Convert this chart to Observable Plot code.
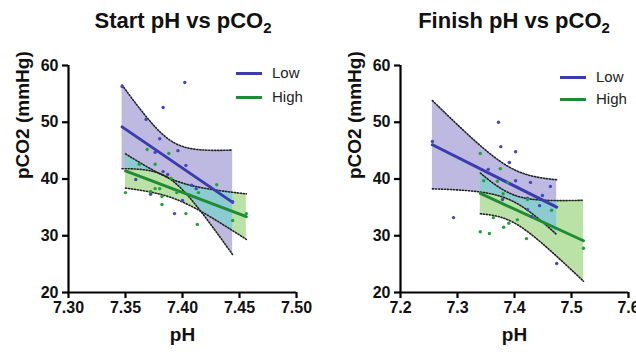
<!DOCTYPE html>
<html><head><meta charset="utf-8">
<script src="https://cdn.jsdelivr.net/npm/d3@7"></script>
<script src="https://cdn.jsdelivr.net/npm/@observablehq/plot@0.6"></script>
<style>
body{margin:0;background:#fff;font-family:"Liberation Sans",Arial,sans-serif;}
#wrap{position:relative;width:636px;height:352px;overflow:hidden;background:#fff;}
.panel{position:absolute;top:0;width:318px;height:352px;}
.title{position:absolute;top:8px;font-weight:bold;font-size:22px;color:#111;white-space:nowrap;transform:translateX(-50%);}
.title sub{font-size:15px;vertical-align:-5px;line-height:0;}
.leg{position:absolute;font-size:15px;color:#222;white-space:nowrap;}
.leg span.sw{display:inline-block;width:26px;height:3px;vertical-align:middle;margin-right:10px;position:relative;top:-1px;}
svg{overflow:visible;}
</style></head>
<body><div id="wrap"></div>
<script>
// ---- data ----
const groups = ["Low", "High"];
const startLowPH    = [7.347, 7.402, 7.383, 7.368, 7.380, 7.376, 7.396, 7.403, 7.383, 7.387, 7.359, 7.372, 7.400, 7.393, 7.408, 7.412, 7.444];
const startLowPCO2  = [56.3, 57.0, 52.6, 50.5, 47.1, 44.7, 45.0, 42.4, 41.3, 40.8, 39.9, 37.3, 36.2, 33.9, 38.9, 38.3, 36.0];
const startHighPH   = [7.369, 7.388, 7.362, 7.376, 7.390, 7.350, 7.372, 7.376, 7.380, 7.382, 7.382, 7.395, 7.403, 7.414, 7.430, 7.413, 7.444, 7.456];
const startHighPCO2 = [45.2, 44.5, 42.6, 42.6, 40.1, 37.6, 37.8, 38.3, 38.3, 36.9, 35.5, 37.6, 33.9, 37.6, 39.0, 32.0, 32.7, 33.9];
const finishLowPH    = [7.256, 7.372, 7.376, 7.402, 7.391, 7.354, 7.402, 7.428, 7.463, 7.449, 7.423, 7.444, 7.423, 7.430, 7.293, 7.474, 7.379];
const finishLowPCO2  = [46.6, 50.0, 45.7, 44.8, 42.9, 41.7, 39.7, 39.4, 38.7, 37.1, 36.6, 35.3, 34.6, 33.4, 33.2, 25.1, 36.4];
const finishHighPH   = [7.340, 7.375, 7.370, 7.346, 7.388, 7.380, 7.423, 7.363, 7.405, 7.390, 7.381, 7.340, 7.356, 7.421, 7.465, 7.521];
const finishHighPCO2 = [44.5, 41.8, 39.6, 39.7, 39.4, 37.4, 36.4, 33.2, 32.8, 32.2, 31.5, 30.7, 30.4, 29.5, 34.5, 27.8];
const xTicksStart  = [7.30, 7.35, 7.40, 7.45, 7.50];
const xTicksFinish = [7.2, 7.3, 7.4, 7.5, 7.6];
const yTicks = [20, 30, 40, 50, 60];
const titles = ["Start pH vs pCO", "Finish pH vs pCO"];

// ---- styling ----
const lineColor = {Low: "#3a3cae", High: "#1f8c35"};
const dotColor  = {Low: "#4347b8", High: "#23a03c"};
const bandFill  = {Low: "#bdb9e0", High: "#bbe2a6"};
const overlapFill = "#8ccbd2";

// t quantile (0.975) via Cornish-Fisher expansion
function tq(df){
  const z = 1.959964;
  const g1 = (z**3 + z)/4, g2 = (5*z**5 + 16*z**3 + 3*z)/96, g3 = (3*z**7 + 19*z**5 + 17*z**3 - 15*z)/384;
  return z + g1/df + g2/df**2 + g3/df**3;
}
function fit(xs, ys){
  const n = xs.length, mx = d3.mean(xs), my = d3.mean(ys);
  let sxx = 0, sxy = 0;
  xs.forEach((x,i)=>{ sxx += (x-mx)**2; sxy += (x-mx)*(ys[i]-my); });
  const b = sxy/sxx, a = my - b*mx;
  const sse = d3.sum(xs, (x,i)=> (ys[i] - (a + b*x))**2);
  const s = Math.sqrt(sse/(n-2)), t = tq(n-2);
  const f = x => { const y = a + b*x, se = s*Math.sqrt(1/n + (x-mx)**2/sxx); return {x, y, lo: y - t*se, hi: y + t*se}; };
  return {f, x0: d3.min(xs), x1: d3.max(xs)};
}
function sample(x0, x1, m){ return d3.range(m+1).map(i => x0 + (x1-x0)*i/m); }

function panel(lowX, lowY, highX, highY, xDomain, xTicks, xFmt, mLeft, mRight){
  const F = {Low: fit(lowX, lowY), High: fit(highX, highY)};
  const bands = {};
  for (const g of groups) bands[g] = sample(F[g].x0, F[g].x1, 120).map(F[g].f);
  const ox0 = Math.max(F.Low.x0, F.High.x0), ox1 = Math.min(F.Low.x1, F.High.x1);
  const overlap = sample(ox0, ox1, 200).map(x => {
    const A = F.Low.f(x), B = F.High.f(x);
    const lo = Math.max(A.lo, B.lo), hi = Math.min(A.hi, B.hi);
    return {x, lo, hi, ok: hi > lo};
  });
  const pts = [
    ...lowX.map((x,i)=>({g:"Low", x, y: lowY[i]})),
    ...highX.map((x,i)=>({g:"High", x, y: highY[i]}))
  ];
  const marks = [];
  for (const g of groups) marks.push(Plot.areaY(bands[g], {x:"x", y1:"lo", y2:"hi", fill: bandFill[g], curve:"linear"}));
  marks.push(Plot.areaY(overlap, {x:"x", y1:"lo", y2:"hi", fill: overlapFill, filter: d => d.ok}));
  for (const g of groups) {
    marks.push(Plot.line(bands[g], {x:"x", y:"lo", stroke:"#222", strokeWidth:1.6, strokeDasharray:"1.2 1.8"}));
    marks.push(Plot.line(bands[g], {x:"x", y:"hi", stroke:"#222", strokeWidth:1.6, strokeDasharray:"1.2 1.8"}));
  }
  for (const g of groups) marks.push(Plot.line([F[g].f(F[g].x0), F[g].f(F[g].x1)], {x:"x", y:"y", stroke: lineColor[g], strokeWidth:3}));
  marks.push(Plot.dot(pts, {x:"x", y:"y", r:1.7, fill: d => dotColor[d.g], stroke:"none"}));
  marks.push(Plot.ruleX([xDomain[0]], {stroke:"#000", strokeWidth:2.2}));
  marks.push(Plot.ruleY([20], {stroke:"#000", strokeWidth:2.2}));
  marks.push(Plot.axisX({ticks: xTicks, tickFormat: xFmt, tickSize:6, tickPadding:3, strokeWidth:2.2, fontSize:16, fontWeight:"bold", fill:"#111", label:null}));
  marks.push(Plot.axisY({ticks: yTicks, tickSize:6, tickPadding:4, strokeWidth:2.2, fontSize:16, fontWeight:"bold", fill:"#111", label:null}));
  marks.push(Plot.text(["pCO2 (mmHg)"], {frameAnchor:"left", rotate:-90, dx:-46, fontSize:19, fontWeight:"bold", fill:"#111"}));
  marks.push(Plot.text(["pH"], {frameAnchor:"bottom", dy:48, fontSize:19, fontWeight:"bold", fill:"#111"}));
  return Plot.plot({
    width:318, height:352, marginLeft:mLeft, marginRight:mRight, marginTop:65, marginBottom:60,
    x:{domain:xDomain}, y:{domain:[20,60]},
    style:{fontFamily:'"Liberation Sans", Arial, sans-serif', background:"transparent", overflow:"visible"},
    marks
  });
}

const wrap = document.getElementById("wrap");
const cfgs = [
  {left:0, svg: panel(startLowPH, startLowPCO2, startHighPH, startHighPCO2, [7.30,7.50], xTicksStart, d3.format(".2f"), 68, 22), tx:183, leg:{x:236, y:[73,97]}},
  {left:318, svg: panel(finishLowPH, finishLowPCO2, finishHighPH, finishHighPCO2, [7.2,7.6], xTicksFinish, d3.format(".1f"), 82, 8), tx:514, leg:{x:560, y:[77,99]}}
];
cfgs.forEach((c, i) => {
  const p = document.createElement("div"); p.className = "panel"; p.style.left = c.left + "px";
  p.appendChild(c.svg); wrap.appendChild(p);
  const t = document.createElement("div"); t.className = "title"; t.style.left = c.tx + "px";
  t.innerHTML = titles[i] + "<sub>2</sub>"; wrap.appendChild(t);
  groups.forEach((g, j) => {
    const l = document.createElement("div"); l.className = "leg";
    l.style.left = c.leg.x + "px"; l.style.top = (c.leg.y[j] - 9) + "px";
    l.innerHTML = `<span class="sw" style="background:${lineColor[g]}"></span>${g}`;
    wrap.appendChild(l);
  });
});
</script></body></html>
